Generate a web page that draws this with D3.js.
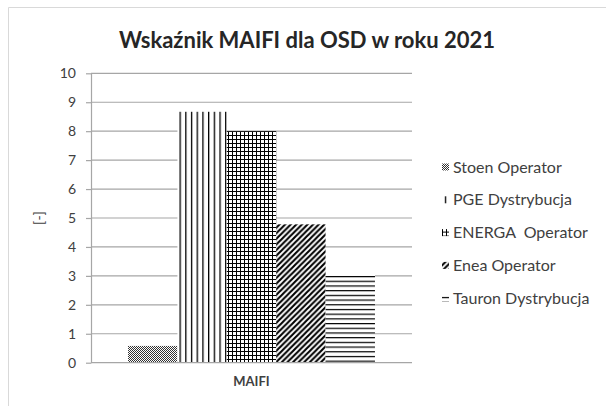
<!DOCTYPE html>
<html>
<head>
<meta charset="utf-8">
<script src="https://cdn.jsdelivr.net/npm/d3@7/dist/d3.min.js"></script>
<style>
body { margin: 0; background: #fff; }
svg { font-family: "Lato", "Open Sans", sans-serif; }
</style>
</head>
<body>
<div id="chart"></div>
<script>
var operators = ["Stoen Operator", "PGE Dystrybucja", "ENERGA  Operator", "Enea Operator", "Tauron Dystrybucja"]
var maifi = [0.58, 8.67, 8.0, 4.78, 3.03]
var category = ["MAIFI"]
var yTicks = [0, 1, 2, 3, 4, 5, 6, 7, 8, 9, 10]
var patternIds = ["pStoen", "pPge", "pEnerga", "pEnea", "pTauron"]

var width = 606, height = 406
var svg = d3.select("#chart").append("svg")
	.attr("width", width)
	.attr("height", height)

// ramka wykresu
svg.append("path")
	.attr("d", "M8.5,406 V7.5 H606")
	.attr("fill", "none")
	.attr("stroke", "#d9d9d9")

// wzory wypełnienia
var defs = svg.append("defs")

var p = defs.append("pattern").attr("id", "pStoen")
	.attr("patternUnits", "userSpaceOnUse").attr("width", 2).attr("height", 2)
p.append("rect").attr("width", 2).attr("height", 2).attr("fill", "#fff")
p.append("rect").attr("width", 1).attr("height", 1).attr("fill", "#333")
p.append("rect").attr("x", 1).attr("y", 1).attr("width", 1).attr("height", 1).attr("fill", "#333")

p = defs.append("pattern").attr("id", "pPge")
	.attr("patternUnits", "userSpaceOnUse").attr("width", 5.7).attr("height", 4).attr("x", 179.5)
p.append("rect").attr("width", 5.7).attr("height", 4).attr("fill", "#fff")
p.append("rect").attr("x", 0).attr("width", 1.3).attr("height", 4).attr("fill", "#000")

p = defs.append("pattern").attr("id", "pEnerga")
	.attr("patternUnits", "userSpaceOnUse").attr("width", 4).attr("height", 4).attr("x", 228).attr("y", 131)
p.append("rect").attr("width", 4).attr("height", 4).attr("fill", "#fff")
p.append("rect").attr("width", 1).attr("height", 4).attr("fill", "#000")
p.append("rect").attr("width", 4).attr("height", 1).attr("fill", "#000")

p = defs.append("pattern").attr("id", "pEnea")
	.attr("patternUnits", "userSpaceOnUse").attr("width", 5.6).attr("height", 5.6)
p.append("rect").attr("width", 5.6).attr("height", 5.6).attr("fill", "#fff")
p.append("path").attr("d", "M-1.4,7 L7,-1.4 M-4.2,4.2 L4.2,-4.2 M1.4,9.8 L9.8,1.4")
	.attr("stroke", "#000").attr("stroke-width", 2.1)

p = defs.append("pattern").attr("id", "pTauron")
	.attr("patternUnits", "userSpaceOnUse").attr("width", 4).attr("height", 4.7).attr("y", 276)
p.append("rect").attr("width", 4).attr("height", 4.7).attr("fill", "#fff")
p.append("rect").attr("width", 4).attr("height", 1.2).attr("fill", "#000")

// tytuł
svg.append("text")
	.attr("x", 307)
	.attr("y", 48)
	.attr("text-anchor", "middle")
	.style("font-size", "22px")
	.style("font-weight", "bold")
	.style("fill", "#262626")
	.text("Wskaźnik MAIFI dla OSD w roku 2021")

var plotLeft = 91, plotRight = 412, plotTop = 73.3, plotBottom = 362.7

var x0 = d3.scaleBand().domain(category).range([plotLeft, plotRight]).paddingInner(0).paddingOuter(0.15)
var x1 = d3.scaleBand().domain(operators).range([0, x0.bandwidth()])
var y = d3.scaleLinear().domain([0, 10]).range([plotBottom, plotTop])

// linie siatki
svg.append("g")
	.selectAll("line")
	.data(yTicks.slice(1))
	.enter().append("line")
	.attr("x1", plotLeft).attr("x2", plotRight)
	.attr("y1", d => y(d)).attr("y2", d => y(d))
	.attr("stroke", "#a6a6a6")
	.attr("stroke-width", 1.2)

// słupki
svg.append("g")
	.selectAll("rect")
	.data(maifi)
	.enter().append("rect")
	.attr("x", (d, i) => x0("MAIFI") + x1(operators[i]))
	.attr("y", d => y(d))
	.attr("width", x1.bandwidth())
	.attr("height", d => plotBottom - y(d))
	.attr("fill", (d, i) => "url(#" + patternIds[i] + ")")

// oś Y
var yAxis = svg.append("g")
	.attr("transform", "translate(" + plotLeft + ",0)")
	.call(d3.axisLeft(y).tickValues(yTicks).tickSize(5).tickPadding(10).tickSizeOuter(0))
yAxis.select(".domain").attr("stroke", "#a6a6a6").attr("stroke-width", 1.2)
yAxis.selectAll(".tick line").attr("stroke", "#a6a6a6").attr("stroke-width", 1.2)
yAxis.selectAll(".tick text")
	.style("font-size", "14px")
	.style("font-family", "Lato, sans-serif")
	.style("fill", "#404040")

// oś X
svg.append("line")
	.attr("x1", plotLeft).attr("x2", plotRight)
	.attr("y1", plotBottom).attr("y2", plotBottom)
	.attr("stroke", "#a6a6a6").attr("stroke-width", 1.2)
svg.append("text")
	.attr("x", x0("MAIFI") + x0.bandwidth() / 2)
	.attr("y", 386)
	.attr("text-anchor", "middle")
	.style("font-size", "13px")
	.style("font-weight", "bold")
	.style("fill", "#404040")
	.text("MAIFI")

// etykieta osi Y
svg.append("text")
	.attr("transform", "translate(44,218) rotate(-90)")
	.attr("text-anchor", "middle")
	.style("font-size", "14px")
	.style("fill", "#404040")
	.text("[-]")

// legenda
var legend = svg.append("g")
	.selectAll("g")
	.data(operators)
	.enter().append("g")
	.attr("transform", (d, i) => "translate(442," + (167 + i * 32.8) + ")")
legend.append("rect")
	.attr("x", 0).attr("y", -3.5)
	.attr("width", 7).attr("height", 7)
	.attr("fill", (d, i) => "url(#" + patternIds[i] + ")")
legend.append("text")
	.attr("x", 11)
	.attr("dy", "0.35em")
	.style("font-size", "16px")
	.style("white-space", "pre")
	.style("fill", "#404040")
	.text(d => d)
</script>
</body>
</html>
